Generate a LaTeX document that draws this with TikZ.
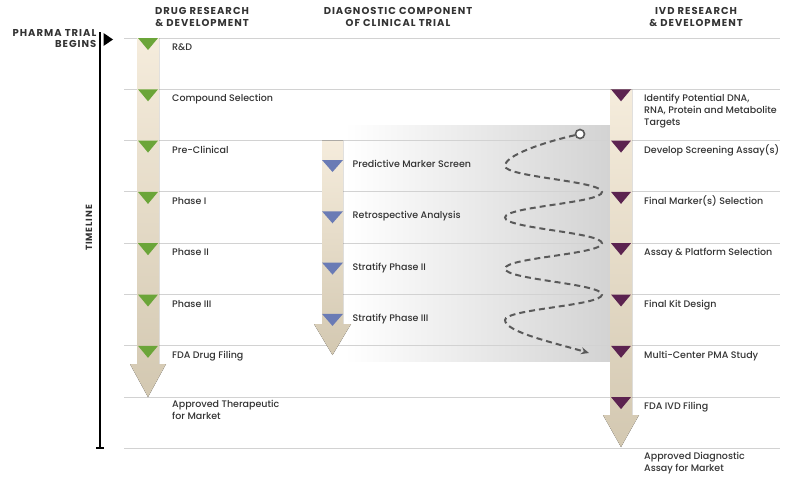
\documentclass[tikz,border=0pt]{standalone}
\usepackage{fontspec}
\setmainfont{Poppins}[UprightFont=* Medium,BoldFont=* Bold]
\newfontfamily\hdrfont{Poppins}[UprightFont=* Bold,LetterSpace=10]
\usetikzlibrary{arrows.meta}
\definecolor{txt}{HTML}{333333}
\definecolor{hl}{HTML}{D2D2D2}
\definecolor{bartop}{HTML}{F5ECDC}
\definecolor{barbot}{HTML}{D3C8B1}
\definecolor{drugc}{HTML}{6BA539}
\definecolor{diagc}{HTML}{6A7BB5}
\definecolor{ivdc}{HTML}{5C2350}
\definecolor{wavec}{HTML}{5A5A5A}
\definecolor{regc}{HTML}{D3D3D3}
\begin{document}
\begin{tikzpicture}[x=1pt,y=-1pt,
  hline/.style={draw=hl,line width=0.9pt},
  bar/.style={top color=bartop,bottom color=barbot},
  lbl/.style={font=\fontsize{9.5}{12}\selectfont,text=txt,inner sep=0pt,align=left},
  hdr/.style={font=\hdrfont\fontsize{10}{11.5}\selectfont,text=txt,inner sep=0pt,align=center},
  wave/.style={draw=wavec,line width=2pt,dash pattern=on 6pt off 4pt},
]
\useasboundingbox (0,0) rectangle (800,479);
% shaded region behind the diagnostic links
\path[left color=white,right color=regc] (345,125) rectangle (610,361);
% horizontal grid lines
\foreach \i in {0,...,8}
  \draw[hline] (124,{38+51.3*\i}) -- (780,{38+51.3*\i});
% timeline
\coordinate (tltop) at (100,32);
\coordinate (tlbot) at (100,448);
\draw[line width=1.4pt,black] (tltop) -- (tlbot);
\draw[line width=1.2pt,black] (96,448) -- (104,448);
\fill[black] (103.5,33) -- (113,39.5) -- (103.5,46) -- cycle;
\node[font=\hdrfont\fontsize{10}{11}\selectfont,text=txt,inner sep=0pt,align=right,anchor=north east] (begins) at (96.5,29.5) {PHARMA TRIAL\\BEGINS};
\node[font=\hdrfont\fontsize{9}{10}\selectfont,text=txt,inner sep=0pt,rotate=90] (timeline) at (89,228) {TIMELINE};
% headers
\node[hdr,anchor=north] (h1) at (202,7.5) {DRUG RESEARCH\\\& DEVELOPMENT};
\node[hdr,anchor=north] (h2) at (398,7.5) {DIAGNOSTIC COMPONENT\\OF CLINICAL TRIAL};
\node[hdr,anchor=north] (h3) at (696,7.5) {IVD RESEARCH\\\& DEVELOPMENT};
% bars
\fill[bar] (137,38) -- (159,38) -- (159,364) -- (166,364) -- (148,397) -- (130,364) -- (137,364) -- cycle;
\fill[bar] (322,140.6) -- (343,140.6) -- (343,324) -- (351,324) -- (332.5,355) -- (314,324) -- (322,324) -- cycle;
\fill[bar] (610,89.3) -- (632,89.3) -- (632,415) -- (639,415) -- (621,447) -- (603,415) -- (610,415) -- cycle;
% drug triangles
\foreach \i in {0,...,6}
  \fill[drugc] (138,{38+51.3*\i}) -- (158,{38+51.3*\i}) -- (148,{50+51.3*\i}) -- cycle;
% diagnostic triangles
\foreach \i in {0,...,3}
  \fill[diagc] (322,{160+51.3*\i}) -- (343,{160+51.3*\i}) -- (332.5,{172+51.3*\i}) -- cycle;
% ivd triangles
\foreach \i in {1,...,7}
  \fill[ivdc] (611,{38+51.3*\i}) -- (631,{38+51.3*\i}) -- (621,{50+51.3*\i}) -- cycle;
% drug labels
\node[lbl,anchor=base west] (d1) at (172,50.5) {R\&D};
\node[lbl,anchor=base west] (d2) at (172,101.8) {Compound Selection};
\node[lbl,anchor=base west] (d3) at (172,153.1) {Pre-Clinical};
\node[lbl,anchor=base west] (d4) at (172,204.4) {Phase I};
\node[lbl,anchor=base west] (d5) at (172,255.7) {Phase II};
\node[lbl,anchor=base west] (d6) at (172,307) {Phase III};
\node[lbl,anchor=base west] (d7) at (172,358.3) {FDA Drug Filing};
\node[lbl,anchor=north west] (d8) at (172,400) {Approved Therapeutic\\for Market};
% diagnostic labels
\node[lbl,anchor=base west] (m1) at (352.5,167.5) {Predictive Marker Screen};
\node[lbl,anchor=base west] (m2) at (352.5,218.8) {Retrospective Analysis};
\node[lbl,anchor=base west] (m3) at (352.5,270.1) {Stratify Phase II};
\node[lbl,anchor=base west] (m4) at (352.5,321.4) {Stratify Phase III};
% ivd labels
\node[lbl,anchor=north west] (v1) at (644,93.5) {Identify Potential DNA,\\RNA, Protein and Metabolite\\Targets};
\node[lbl,anchor=base west] (v2) at (644,153.1) {Develop Screening Assay(s)};
\node[lbl,anchor=base west] (v3) at (644,204.4) {Final Marker(s) Selection};
\node[lbl,anchor=base west] (v4) at (644,255.7) {Assay \& Platform Selection};
\node[lbl,anchor=base west] (v5) at (644,307) {Final Kit Design};
\node[lbl,anchor=base west] (v6) at (644,358.3) {Multi-Center PMA Study};
\node[lbl,anchor=base west] (v7) at (644,409.6) {FDA IVD Filing};
\node[lbl,anchor=north west] (v8) at (644,452) {Approved Diagnostic\\Assay for Market};
% wave connector
\node[circle,draw=wavec,fill=white,line width=1.6pt,minimum size=9pt,inner sep=0pt] (wstart) at (580,134) {};
\coordinate (wend) at (589,353);
\draw[wave,-{Stealth[length=8pt,width=7pt]}] (wstart)
  .. controls (545,142) and (505,155) .. (505,166)
  .. controls (505,177) and (602,181) .. (602,192)
  .. controls (602,203) and (505,206.5) .. (505,217.5)
  .. controls (505,228.5) and (602,232.3) .. (602,243.3)
  .. controls (602,254.3) and (505,257.6) .. (505,268.6)
  .. controls (505,279.6) and (602,283.6) .. (602,294.6)
  .. controls (602,305.6) and (505,309) .. (505,320)
  .. controls (505,332) and (555,343) .. (wend);
\end{tikzpicture}
\end{document}
